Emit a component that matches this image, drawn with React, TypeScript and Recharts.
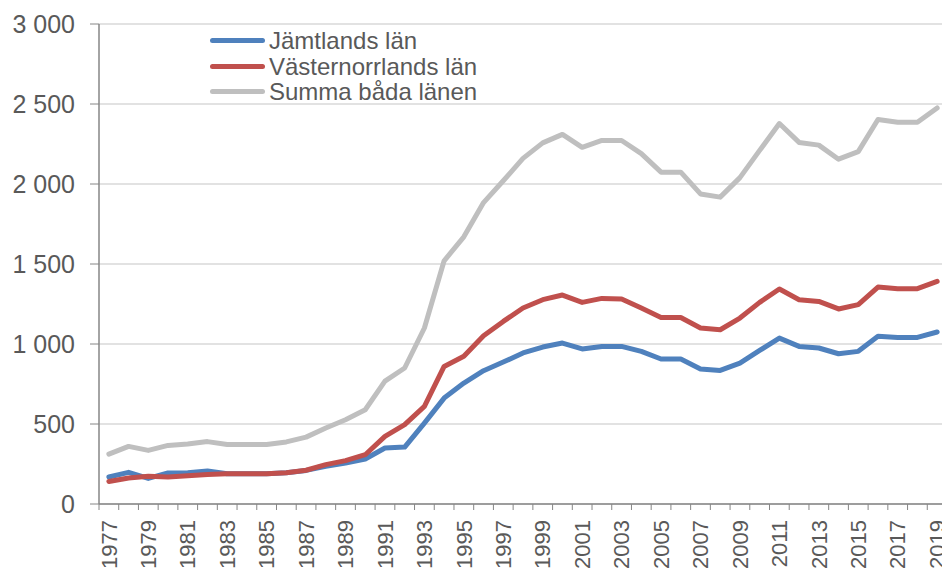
import { LineChart, Line, XAxis, YAxis, CartesianGrid } from "recharts";

const years = [
  "1977", "1978", "1979", "1980", "1981", "1982", "1983", "1984", "1985",
  "1986", "1987", "1988", "1989", "1990", "1991", "1992", "1993", "1994",
  "1995", "1996", "1997", "1998", "1999", "2000", "2001", "2002",
  "2003", "2004", "2005", "2006", "2007", "2008", "2009", "2010",
  "2011", "2012", "2013", "2014", "2015", "2016", "2017", "2018", "2019",
];

const jamtland = [
  169, 198, 160, 194, 196, 206, 189, 189, 189,
  195, 210, 235, 256, 281, 350, 356, 506, 662,
  756, 833, 887, 944, 981, 1006, 969, 985,
  985, 954, 906, 906, 844, 835, 881, 960,
  1037, 985, 975, 939, 954, 1048, 1041, 1041, 1075,
];

const vasternorrland = [
  141, 162, 173, 169, 176, 185, 189, 189, 189,
  195, 211, 246, 271, 308, 423, 496, 610, 860,
  923, 1052, 1141, 1225, 1277, 1306, 1260, 1285,
  1281, 1225, 1166, 1166, 1100, 1089, 1162, 1260,
  1344, 1277, 1266, 1219, 1246, 1356, 1346, 1346, 1391,
];

const summa = [
  312, 360, 335, 366, 375, 390, 372, 372, 372,
  388, 418, 475, 527, 589, 768, 850, 1100, 1520,
  1670, 1884, 2020, 2160, 2257, 2310, 2229, 2272,
  2272, 2190, 2074, 2074, 1938, 1918, 2040, 2210,
  2378, 2260, 2243, 2155, 2202, 2403, 2386, 2386, 2475,
];

const yTicks = [0, 500, 1000, 1500, 2000, 2500, 3000];

const data = years.map((year, i) => ({
  year,
  jamtland: jamtland[i],
  vasternorrland: vasternorrland[i],
  summa: summa[i],
}));

const series = [
  { key: "jamtland", name: "Jämtlands län", color: "#4F81BD" },
  { key: "vasternorrland", name: "Västernorrlands län", color: "#C0504D" },
  { key: "summa", name: "Summa båda länen", color: "#BFBFBF" },
];

const FONT = "'Liberation Sans', Arial, sans-serif";
const TEXT = "#595959";
const AXIS = "#868686";

// Excel-style thousands separator: "3 000"
const formatY = (v: number) =>
  v >= 1000 ? `${Math.floor(v / 1000)} ${String(v % 1000).padStart(3, "0")}` : String(v);

const W = 942;
const H = 564;
const PLOT_W = 848;

// tick marks sit between categories, labels on every other year
const YearTick = (props: any) => {
  const { x, y, payload, index, visibleTicksCount } = props;
  const half = payload?.offset || PLOT_W / (2 * years.length);
  const ty = y + 10;
  return (
    <g>
      <line x1={x - half} x2={x - half} y1={y - 6} y2={y} stroke={AXIS} strokeWidth={1} />
      {index === visibleTicksCount - 1 && (
        <line x1={x + half} x2={x + half} y1={y - 6} y2={y} stroke={AXIS} strokeWidth={1} />
      )}
      {index % 2 === 0 && (
        <text
          x={x}
          y={ty}
          dy="0.35em"
          transform={`rotate(-90, ${x}, ${ty})`}
          textAnchor="end"
          fill={TEXT}
          fontSize={22}
          fontFamily={FONT}
        >
          {payload.value}
        </text>
      )}
    </g>
  );
};

// legend kept outside the chart so it does not eat into the plot area
const ChartLegend = () => (
  <div
    style={{
      position: "absolute",
      top: 20,
      left: 202,
      fontFamily: FONT,
      fontSize: 24,
      color: TEXT,
    }}
  >
    {series.map((s) => (
      <div key={s.key} style={{ display: "flex", alignItems: "center", height: 25.5 }}>
        <span
          style={{
            display: "inline-block",
            width: 55,
            height: 5,
            borderRadius: 3,
            background: s.color,
            marginRight: 4,
          }}
        />
        <span style={{ lineHeight: "25.5px", whiteSpace: "nowrap" }}>{s.name}</span>
      </div>
    ))}
  </div>
);

export default function App() {
  return (
    <div style={{ position: "relative", width: W, height: H, fontFamily: FONT }}>
      <LineChart width={W} height={H} data={data} margin={{ top: 16, right: 3, left: 0, bottom: 8 }}>
        <CartesianGrid vertical={false} stroke="#D9D9D9" strokeWidth={1.5} />
        <XAxis
          dataKey="year"
          scale="band"
          interval={0}
          height={60}
          tickSize={6}
          tickMargin={0}
          tickLine={false}
          axisLine={{ stroke: AXIS, strokeWidth: 1.5 }}
          tick={<YearTick />}
        />
        <YAxis
          width={91}
          domain={[0, 3000]}
          ticks={yTicks}
          interval={0}
          tickSize={9}
          tickMargin={15}
          tickFormatter={formatY}
          axisLine={{ stroke: AXIS, strokeWidth: 1.5 }}
          tickLine={{ stroke: AXIS }}
          tick={{ fill: TEXT, fontSize: 25, fontFamily: FONT }}
        />
        {series.map((s) => (
          <Line
            key={s.key}
            type="linear"
            dataKey={s.key}
            name={s.name}
            stroke={s.color}
            strokeWidth={5}
            strokeLinejoin="round"
            strokeLinecap="round"
            dot={false}
            activeDot={false}
            isAnimationActive={false}
          />
        ))}
      </LineChart>
      <ChartLegend />
    </div>
  );
}
